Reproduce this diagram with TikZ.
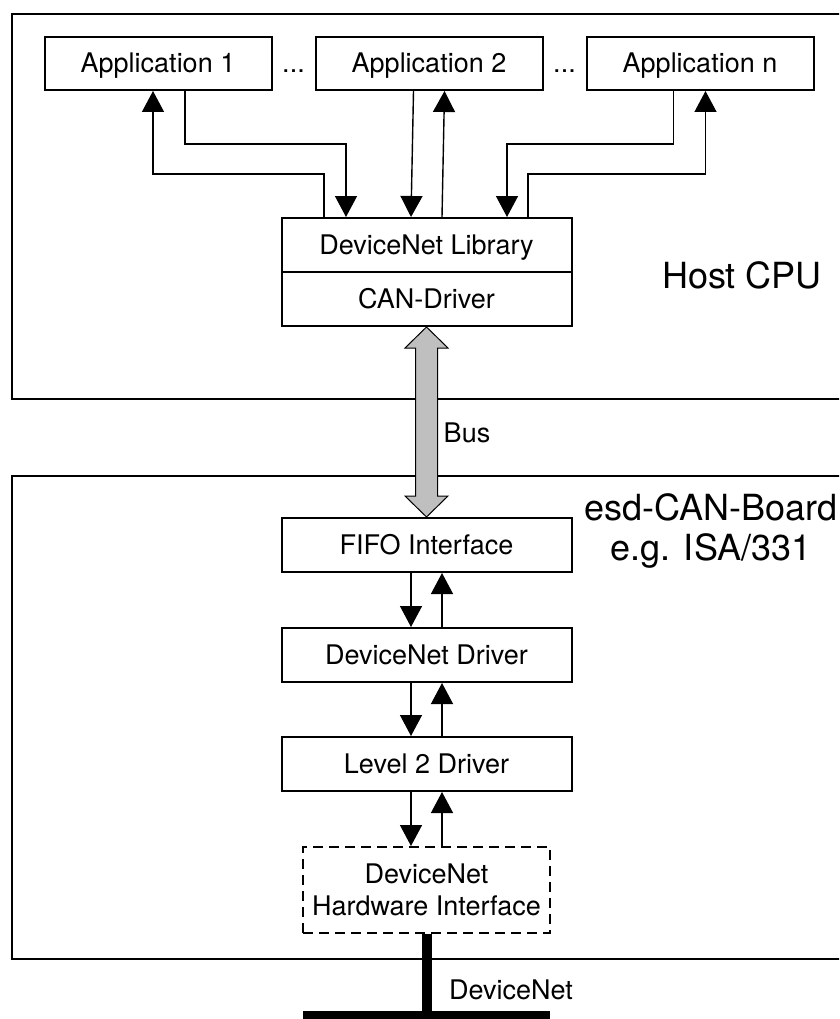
\documentclass[tikz,border=0pt]{standalone}
\usepackage{fontspec}
\setmainfont{TeX Gyre Heros}
\usetikzlibrary{positioning, arrows.meta, calc}

\begin{document}
\begin{tikzpicture}[
    x=1pt, y=-1pt,
    box/.style   = {draw=black, line width=2pt, inner sep=0pt,
                    minimum width=227pt, minimum height=53pt,
                    font=\fontsize{27}{32}\selectfont, text height=19pt, text depth=0pt},
    layer/.style = {box, minimum width=290pt, minimum height=54pt},
    hwbox/.style = {box, line width=1.5pt, dash pattern=on 10pt off 6pt,
                    minimum width=247pt, minimum height=86pt,
                    align=center, text height=, text depth=},
    gap/.style   = {font=\fontsize{27}{32}\selectfont, anchor=base, inner sep=0pt},
    note/.style  = {font=\fontsize{27}{32}\selectfont, inner sep=0pt},
    sys/.style   = {font=\fontsize{36}{40}\selectfont, align=center, inner sep=0pt},
    frame/.style = {draw=black, line width=2.2pt},
    flow/.style  = {-{Triangle[length=21pt, width=22pt]}, line width=1.4pt},
    bus/.style   = {draw=black, fill=black!25, line width=1pt, line join=miter},
    cable/.style = {line width=10pt},
    node distance = 42pt,
  ]
  \useasboundingbox (0,0) rectangle (839,1019);
  \clip (0,0) rectangle (839,1019);

  % the two systems
  \draw[frame] (12,14) rectangle (870,399);
  \draw[frame] (12,476) rectangle (870,959);

  % host side
  \node[box] (app1) at (158,63.5) {Application 1};
  \node[box, right=of app1] (app2) {Application 2};
  \node[box, right=of app2] (appn) {Application n};
  \node[gap] at ($(app1.base east)!0.5!(app2.base west)$) {...};
  \node[gap] at ($(app2.base east)!0.5!(appn.base west)$) {...};

  \node[layer] (lib) at (426.5,245) {DeviceNet Library};
  \node[layer, below=-2pt of lib] (can) {CAN-Driver};

  \node[sys] (host) at (742,275) {Host CPU};

  % board side
  \node[layer] (fifo) at (426.5,545) {FIFO Interface};
  \node[layer, below=54pt of fifo] (dnd) {DeviceNet Driver};
  \node[layer, below=53pt of dnd] (l2d) {Level 2 Driver};
  \node[hwbox, below=54pt of l2d] (hw) {DeviceNet\\Hardware Interface};

  \node[sys] (board) at (711,531) {esd-CAN-Board\\e.g. ISA/331};

  % application links
  \draw[flow] ([xshift=27]app1.south) -- ++(0,53) -| ([xshift=-80.5]lib.north);
  \draw[flow] ([xshift=-102.5]lib.north) -- ++(0,-43) -| ([xshift=-5]app1.south);
  \draw[flow] ([xshift=-26.5]appn.south) -- ++(0,53) -| ([xshift=80.5]lib.north);
  \draw[flow] ([xshift=101.5]lib.north) -- ++(0,-43) -| ([xshift=5.5]appn.south);

  \foreach \a/\b in {app2/lib, fifo/dnd, dnd/l2d, l2d/hw} {
    \draw[flow] ([xshift=-15.5]\a.south) -- ([xshift=-15.5]\b.north);
    \draw[flow] ([xshift=15.5]\b.north) -- ([xshift=15.5]\a.south);
  }

  % host bus
  \draw[bus] (can.south) -- ++(-21.5,21) -- ++(10.5,0)
    -- ($(fifo.north)+(-11,-21)$) -- ++(-10.5,0) -- (fifo.north)
    -- ++(21.5,-21) -- ++(-10.5,0) -- ($(can.south)+(11,21)$) -- ++(10.5,0) -- cycle;
  \node[note] (buslabel) at (467,433) {Bus};

  % field bus
  \coordinate (netL) at (303,1016);
  \coordinate (netR) at (550,1016);
  \draw[cable] (netL) -- (netR);
  \draw[cable] (hw.south) -- (hw.south |- netL);
  \node[note] (netlabel) at (511,990) {DeviceNet};
\end{tikzpicture}
\end{document}
